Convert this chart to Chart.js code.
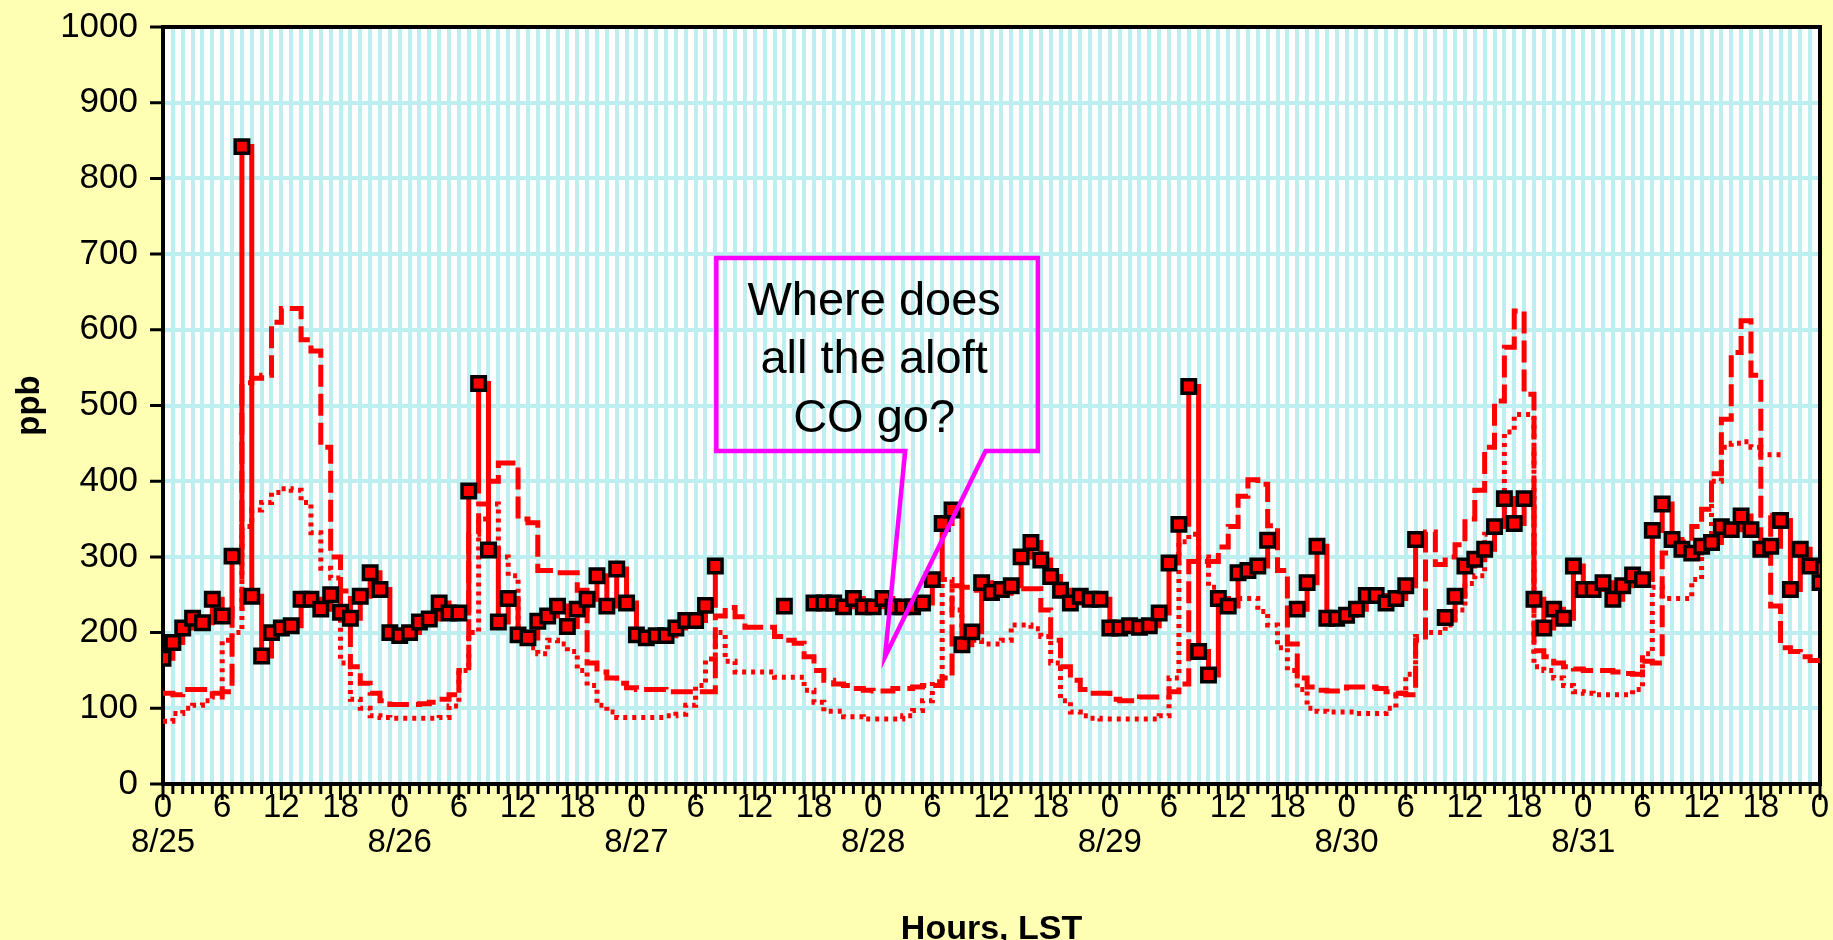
<!DOCTYPE html>
<html lang="en">
<head>
  <meta charset="UTF-8" />
  <title>CO ppb, 8/25 - 8/31</title>
  <script src="https://cdn.jsdelivr.net/npm/chart.js"></script>
  <style>
    html, body { margin: 0; padding: 0; background: #ffffb4; }
    canvas { display: block; }
  </style>
</head>
<body>
  <canvas id="myChart" width="1833" height="940" style="width:1833px;height:940px"></canvas>

  <script>
    // hours, LST: 0 = 8/25 00h ... 168 = 9/1 00h
    const horas = Array.from({ length: 169 }, (_, i) => i);
    const dias = ['8/25', '8/26', '8/27', '8/28', '8/29', '8/30', '8/31'];

    // surface CO (squares), null = missing hour
    const superficie = [
      166, 187, 206, 219, 213, 244, 222, 301, 842, 248, 169, 200, 206, 209, 244, 244, 231, 250, 227, 219, 248, 279, 257, 200,
      196, 200, 214, 218, 239, 226, 226, 387, 529, 309, 214, 245, 197, 193, 215, 222, 235, 208, 231, 244, 275, 235, 284, 239,
      197, 193, 196, 196, 206, 216, 216, 236, 288, null, null, null, null, null, null, 235, null, null, 239, 239, 239, 234, 245, 234,
      234, 245, 234, 234, 234, 239, 270, 344, 362, 184, 201, 266, 253, 257, 262, 300, 319, 296, 274, 256, 239, 248, 244, 244,
      206, 206, 209, 207, 209, 226, 292, 343, 525, 175, 144, 245, 235, 279, 282, 288, 322, null, null, 231, 266, 314, 219, 219,
      223, 231, 249, 249, 239, 245, 262, 323, null, null, 220, 248, 288, 297, 310, 340, 377, 344, 377, 244, 206, 231, 219, 288,
      257, 257, 266, 244, 262, 276, 270, 335, 370, 323, 310, 305, 314, 319, 340, 336, 354, 336, 310, 314, 348, 257, 310, 288,
      266
    ];

    // aloft CO, dashed line
    const aloftA = [
      120, 118, 125, 125, 125, 120, 122, 232, 530, 536, 540, 610, 628, 628, 587, 572, 445, 300, 255, 155, 133, 120, 110, 105,
      105, 105, 106, 108, 112, 118, 150, 330, 370, 400, 424, 424, 350, 345, 282, 282, 279, 279, 256, 160, 148, 140, 133, 127,
      125, 125, 125, 122, 122, 122, 122, 122, 222, 233, 221, 207, 207, 207, 195, 190, 186, 168, 150, 137, 132, 130, 126, 124,
      123, 123, 126, 126, 128, 130, 130, 140, 262, 260, 256, 256, 250, 252, 255, 258, 258, 230, 190, 155, 137, 125, 120, 120,
      112, 110, 110, 115, 115, 115, 122, 132, 294, 294, 294, 313, 340, 380, 402, 396, 341, 282, 185, 140, 128, 124, 123, 123,
      128, 128, 128, 126, 122, 120, 118, 190, 333, 290, 300, 316, 350, 388, 445, 506, 577, 625, 515, 176, 168, 160, 155, 152,
      150, 150, 150, 148, 146, 145, 162, 160, 305, 305, 320, 340, 363, 410, 482, 570, 612, 540, 355, 235, 180, 175, 168, 163,
      160
    ];

    // aloft CO, dotted line
    const aloftB = [
      83, 93, 100, 104, 110, 115, 190, 200, 340, 362, 372, 385, 390, 388, 372, 332, 285, 272, 160, 112, 100, 90, 88, 87,
      87, 87, 87, 87, 88, 103, 150, 200, 350, 370, 300, 275, 200, 180, 172, 190, 185, 175, 150, 130, 104, 95, 88, 88,
      88, 88, 88, 90, 92, 104, 130, 165, 200, 162, 148, 148, 148, 148, 141, 141, 141, 124, 108, 96, 96, 89, 89, 86,
      86, 86, 86, 90, 97, 110, 135, 270, 230, 200, 190, 185, 185, 190, 210, 210, 205, 195, 160, 110, 95, 90, 87, 86,
      86, 86, 86, 86, 86, 90, 140, 320, 330, 300, 260, 245, 240, 245, 245, 228, 210, 180, 150, 125, 100, 96, 95, 95,
      95, 93, 93, 93, 100, 120, 145, 195, 200, 200, 210, 230, 265, 275, 330, 345, 465, 488, 488, 155, 150, 140, 130, 122,
      120, 118, 118, 118, 118, 125, 172, 260, 245, 245, 245, 270, 320, 400, 445, 450, 452, 445, 435, 435, 435, null, null, null,
      null
    ];

    const fonte = '"Liberation Sans", Arial, sans-serif';
    const vermelho = '#ff0000';
    const ciano = '#bdeff0';

    // callout, in hours / ppb
    const nota = {
      linhas: ['Where does', 'all the aloft', 'CO go?'],
      esq: 56.1, dir: 88.7, topo: 695, base: 440,
      pe: [75.25, 83.4], ponta: [73.2, 168], centro: 72.1
    };

    const moldura = {
      id: 'moldura',
      beforeDraw(chart) {
        const { ctx, chartArea: a } = chart;
        ctx.save();
        ctx.fillStyle = '#ffffb4';
        ctx.fillRect(0, 0, chart.width, chart.height);
        ctx.fillStyle = '#ffffff';
        ctx.fillRect(a.left, a.top, a.right - a.left, a.bottom - a.top);
        ctx.restore();
      },
      beforeDatasetsDraw(chart) {
        const { ctx, chartArea: a, scales: { x, y } } = chart;
        ctx.save();
        ctx.strokeStyle = '#000';
        ctx.lineWidth = 3;
        ctx.beginPath();
        x.ticks.forEach(t => {
          const px = x.getPixelForValue(t.value);
          ctx.moveTo(px, a.bottom);
          ctx.lineTo(px, a.bottom + (t.value % 6 === 0 ? 16 : 10));
        });
        y.ticks.forEach(t => {
          const py = y.getPixelForValue(t.value);
          ctx.moveTo(a.left - 13, py);
          ctx.lineTo(a.left, py);
        });
        ctx.stroke();
        ctx.lineWidth = 4;
        ctx.strokeRect(a.left, a.top, a.right - a.left, a.bottom - a.top);
        ctx.restore();
      },
      afterDatasetsDraw(chart) {
        const { ctx, scales: { x, y } } = chart;
        const l = x.getPixelForValue(nota.esq), r = x.getPixelForValue(nota.dir);
        const t = y.getPixelForValue(nota.topo), b = y.getPixelForValue(nota.base);
        ctx.save();
        ctx.strokeStyle = '#ff00ff';
        ctx.lineWidth = 4.5;
        ctx.lineJoin = 'miter';
        ctx.beginPath();
        ctx.moveTo(l, t);
        ctx.lineTo(r, t);
        ctx.lineTo(r, b);
        ctx.lineTo(x.getPixelForValue(nota.pe[1]), b);
        ctx.lineTo(x.getPixelForValue(nota.ponta[0]), y.getPixelForValue(nota.ponta[1]));
        ctx.lineTo(x.getPixelForValue(nota.pe[0]), b);
        ctx.lineTo(l, b);
        ctx.closePath();
        ctx.stroke();
        ctx.fillStyle = '#000';
        ctx.font = '47px ' + fonte;
        ctx.textAlign = 'center';
        ctx.textBaseline = 'alphabetic';
        const cx = x.getPixelForValue(nota.centro);
        nota.linhas.forEach((txt, i) => ctx.fillText(txt, cx, t + 57 + i * 58.5));
        ctx.restore();
      }
    };

    const ctx = document.getElementById('myChart');

    new Chart(ctx, {
      type: 'line',
      data: {
        labels: horas,
        datasets: [
          {
            data: superficie,
            borderColor: vermelho,
            borderWidth: 5,
            stepped: true,
            pointStyle: 'rect',
            pointRadius: 9.5,
            pointBorderWidth: 3.5,
            pointBackgroundColor: vermelho,
            pointBorderColor: '#000'
          },
          {
            data: aloftA,
            borderColor: vermelho,
            borderWidth: 5,
            borderDash: [22, 7],
            stepped: true,
            pointRadius: 0
          },
          {
            data: aloftB,
            borderColor: vermelho,
            borderWidth: 5,
            borderDash: [4, 5],
            stepped: true,
            pointRadius: 0
          }
        ]
      },
      options: {
        responsive: false,
        animation: false,
        events: [],
        layout: { padding: { top: 27, right: 13, bottom: 0, left: 0 } },
        plugins: { legend: { display: false }, tooltip: { enabled: false } },
        elements: { line: { tension: 0, borderJoinStyle: 'miter', borderCapStyle: 'butt' } },
        scales: {
          x: {
            type: 'linear',
            min: 0,
            max: 168,
            afterFit(s) { s.height = 156; s.paddingLeft = 0; s.paddingRight = 0; },
            grid: { color: ciano, lineWidth: 4, drawTicks: false },
            border: { display: false },
            ticks: {
              stepSize: 1,
              maxTicksLimit: 200,
              autoSkip: false,
              maxRotation: 0,
              padding: 6,
              color: '#000',
              font: { family: fonte, size: 33, lineHeight: 1.06 },
              callback(v) {
                if (v % 6 !== 0) return '';
                const h = String(v % 24);
                if (v % 24 === 0 && v < 168) return [h, dias[v / 24]];
                return h;
              }
            },
            title: {
              display: true,
              text: 'Hours, LST',
              color: '#000',
              font: { family: fonte, size: 34, weight: 'bold', lineHeight: 0.6 },
              padding: { top: 0, bottom: 0 }
            }
          },
          y: {
            min: 0,
            max: 1000,
            afterFit(s) { s.width = 163; s.paddingTop = 0; s.paddingBottom = 0; },
            grid: { color: ciano, lineWidth: 4, drawTicks: false },
            border: { display: false },
            ticks: {
              stepSize: 100,
              padding: 25,
              color: '#000',
              font: { family: fonte, size: 35 },
              callback: v => String(v)
            },
            title: {
              display: true,
              text: 'ppb',
              color: '#000',
              font: { family: fonte, size: 33, weight: 'bold', lineHeight: 1 },
              padding: { top: 13, bottom: 0 }
            }
          }
        }
      },
      plugins: [moldura]
    });
  </script>
</body>
</html>
